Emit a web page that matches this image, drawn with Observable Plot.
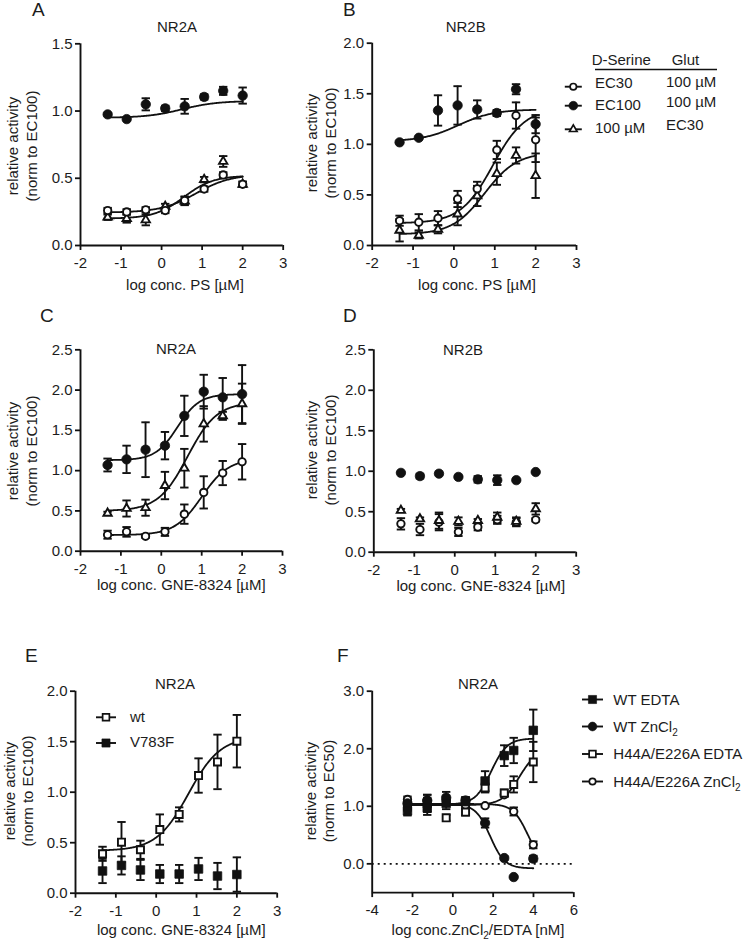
<!DOCTYPE html>
<html>
<head>
<meta charset="utf-8">
<script src="https://cdn.jsdelivr.net/npm/d3@7"></script>
<script src="https://cdn.jsdelivr.net/npm/@observablehq/plot@0.6"></script>
<style>
  html, body { margin: 0; padding: 0; background: #fff; }
  #fig { position: relative; width: 748px; height: 943px; overflow: hidden; background: #fff; }
</style>
</head>
<body>
<div id="fig"></div>
<script>
// ---------- shared x values / ticks ----------
const logDose = [-1.33, -0.86, -0.39, 0.09, 0.57, 1.05, 1.52, 2.0];
const logZn = [-2.25, -1.27, -0.33, 0.63, 1.6, 2.55, 3.02, 3.99];
const ticksDose = [-2, -1, 0, 1, 2, 3];
const ticksZn = [-4, -2, 0, 2, 4, 6];

// ---------- Panel A (NR2A, PS) ----------
const aEC30 = [0.26, 0.25, 0.265, 0.26, 0.335, 0.42, 0.525, 0.455];
const aEC30Err = [0.02, 0.02, 0.02, 0.02, 0.03, 0.02, 0.02, 0.02];
const aEC100 = [0.975, 0.94, 1.05, 1.02, 1.035, 1.105, 1.15, 1.115];
const aEC100Err = [0.01, 0.01, 0.045, 0.02, 0.055, 0.02, 0.03, 0.06];
const a100uM = [0.21, 0.20, 0.19, 0.29, 0.33, 0.49, 0.625, 0.455];
const a100uMErr = [0.02, 0.03, 0.04, 0.02, 0.03, 0.02, 0.04, 0.02];
// fit parameters: [low-dose level, high-dose level, logEC50, hill]
const aFitEC30 = [0.245, 0.53, 0.85, 1.0];
const aFitEC100 = [0.95, 1.075, 0.5, 1.0];
const aFit100uM = [0.2, 0.52, 0.55, 1.2];

// ---------- Panel B (NR2B, PS) ----------
const bEC30 = [0.245, 0.23, 0.27, 0.46, 0.56, 0.945, 1.285, 1.045];
const bEC30Err = [0.05, 0.08, 0.07, 0.08, 0.07, 0.09, 0.13, 0.22];
const bEC100 = [1.02, 1.065, 1.335, 1.385, 1.345, 1.31, 1.545, 1.2];
const bEC100Err = [0.01, 0.01, 0.15, 0.19, 0.09, 0.03, 0.05, 0.09];
const b100uM = [0.15, 0.10, 0.16, 0.31, 0.49, 0.71, 0.89, 0.69];
const b100uMErr = [0.11, 0.03, 0.04, 0.11, 0.10, 0.11, 0.08, 0.22];
const bFitEC30 = [0.22, 1.36, 0.95, 1.1];
const bFitEC100 = [1.03, 1.345, 0.1, 1.0];
const bFit100uM = [0.11, 0.92, 0.75, 1.1];

// ---------- Panel C (NR2A, GNE-8324) ----------
const cEC30 = [0.205, 0.24, 0.185, 0.24, 0.46, 0.73, 0.97, 1.11];
const cEC30Err = [0.05, 0.06, 0.02, 0.05, 0.12, 0.2, 0.15, 0.22];
const cEC100 = [1.07, 1.14, 1.26, 1.31, 1.68, 1.98, 1.91, 1.95];
const cEC100Err = [0.08, 0.17, 0.34, 0.17, 0.25, 0.21, 0.24, 0.36];
const c100uM = [0.47, 0.53, 0.54, 0.815, 1.03, 1.58, 1.68, 1.83];
const c100uMErr = [0.02, 0.1, 0.1, 0.17, 0.24, 0.22, 0.05, 0.25];
const cFitEC30 = [0.2, 1.15, 1.0, 1.3];
const cFitEC100 = [1.13, 1.95, 0.4, 1.6];
const cFit100uM = [0.5, 1.85, 0.65, 1.2];

// ---------- Panel D (NR2B, GNE-8324) ----------
const dEC30 = [0.35, 0.28, 0.37, 0.25, 0.31, 0.40, 0.37, 0.40];
const dEC30Err = [0.07, 0.07, 0.1, 0.05, 0.04, 0.05, 0.05, 0.02];
const dEC100 = [0.98, 0.94, 0.97, 0.93, 0.90, 0.89, 0.89, 0.99];
const dEC100Err = [0.01, 0.03, 0.01, 0.01, 0.04, 0.06, 0.01, 0.01];
const d100uM = [0.515, 0.41, 0.39, 0.38, 0.39, 0.43, 0.38, 0.535];
const d100uMErr = [0.02, 0.02, 0.1, 0.05, 0.02, 0.06, 0.05, 0.07];

// ---------- Panel E (NR2A, wt vs V783F) ----------
const eWt = [0.39, 0.505, 0.43, 0.63, 0.78, 1.165, 1.30, 1.505];
const eWtErr = [0.07, 0.2, 0.09, 0.15, 0.07, 0.17, 0.27, 0.26];
const eV783F = [0.22, 0.275, 0.23, 0.19, 0.19, 0.24, 0.17, 0.185];
const eV783FErr = [0.12, 0.09, 0.1, 0.09, 0.09, 0.11, 0.13, 0.17];
const eFitWt = [0.42, 1.55, 0.8, 1.1];

// ---------- Panel F (NR2A, ZnCl2 / EDTA) ----------
const fWtEDTA = [0.92, 0.97, 1.05, 1.08, 1.44, 1.88, 1.97, 2.32];
const fWtEDTAErr = [0.08, 0.12, 0.1, 0.08, 0.17, 0.18, 0.22, 0.36];
const fWtZn = [1.05, 1.1, 1.15, 1.1, 0.71, 0.10, -0.23, 0.09];
const fWtZnErr = [0.05, 0.1, 0.1, 0.06, 0.08, 0.03, 0.01, 0.05];
const fMutEDTA = [1.0, 1.05, 0.8, 0.9, 1.32, 1.23, 1.38, 1.77];
const fMutEDTAErr = [0.08, 0.15, 0.05, 0.06, 0.08, 0.06, 0.14, 0.35];
const fMutZn = [1.12, 1.1, 1.1, 1.02, 1.01, 1.2, 0.91, 0.33];
const fMutZnErr = [0.05, 0.05, 0.05, 0.05, 0.02, 0.03, 0.07, 0.06];
const fFitWtEDTA = [1.03, 2.18, 1.9, 1.1];
const fFitWtZn = [1.04, -0.08, 1.85, 1.2];
const fFitMutEDTA = [1.02, 2.0, 3.3, 1.0];
const fFitMutZn = [1.04, 0.0, 3.7, 1.2];

// ---------- helpers ----------
const INK = "#111";
const TXT = "#1c1c1c";
const FONT = '"Liberation Sans", Arial, Helvetica, sans-serif';
const fig = document.getElementById("fig");

const MARK = {
  oc: {symbol: "circle", r: 3.7, fill: "white", stroke: INK, strokeWidth: 1.9},
  fc: {symbol: "circle", r: 4.7, fill: INK, stroke: INK, strokeWidth: 0.8},
  ot: {symbol: "triangle", r: 3.1, fill: "white", stroke: INK, strokeWidth: 1.9},
  os: {symbol: "square", r: 4.0, fill: "white", stroke: INK, strokeWidth: 1.9},
  fs: {symbol: "square", r: 4.8, fill: INK, stroke: INK, strokeWidth: 0.8}
};
const capSymbol = {
  draw(context, size) {
    const w = Math.sqrt(size / Math.PI);
    context.moveTo(-w, 0);
    context.lineTo(w, 0);
  }
};

function rows(name, xs, ys, es) {
  return xs.map((x, i) => ({series: name, x, y: ys[i], lo: ys[i] - es[i], hi: ys[i] + es[i]}));
}
function fitCurve(name, params, x0, x1) {
  const [start, end, ec, h] = params;
  const n = 160;
  return d3.range(n + 1).map(i => {
    const x = x0 + (x1 - x0) * i / n;
    return {series: name, x, y: start + (end - start) / (1 + Math.pow(10, (ec - x) * h))};
  });
}

function drawPanel(p) {
  const mL = 70, mT = 30, mR = 20, mB = 30;
  const svgLeft = Math.floor(p.px[0]) - mL;
  const svgTop = Math.floor(p.py[0]) - mT;
  const width = Math.ceil(p.px[1]) + mR - svgLeft;
  const height = Math.ceil(p.py[1]) + mB - svgTop;
  const marks = [];
  (p.extra || []).forEach(m => marks.push(m));
  (p.fits || []).forEach(f => marks.push(Plot.line(f, {x: "x", y: "y", stroke: INK, strokeWidth: 1.8})));
  p.series.forEach(s => {
    marks.push(Plot.ruleX(s.data, {x: "x", y1: "lo", y2: "hi", stroke: INK, strokeWidth: 1.9}));
    marks.push(Plot.dot(s.data, {x: "x", y: "hi", symbol: capSymbol, r: 4.2, stroke: INK, strokeWidth: 1.9}));
    marks.push(Plot.dot(s.data, {x: "x", y: "lo", symbol: capSymbol, r: 4.2, stroke: INK, strokeWidth: 1.9}));
  });
  p.series.forEach(s => {
    marks.push(Plot.dot(s.data, {x: "x", y: "y", ...MARK[s.mark]}));
  });
  const chart = Plot.plot({
    width, height,
    marginLeft: p.px[0] - svgLeft,
    marginRight: svgLeft + width - p.px[1],
    marginTop: p.py[0] - svgTop,
    marginBottom: svgTop + height - p.py[1],
    style: {background: "transparent", overflow: "visible", fontFamily: FONT, fontSize: "15px", color: TXT},
    x: {type: "linear", domain: p.xDomain},
    y: {type: "linear", domain: p.yDomain},
    marks: [
      Plot.axisX({ticks: p.xTicks, tickSize: 5, tickPadding: 7, tickFormat: d => String(d), label: null, stroke: INK, strokeWidth: 1.8, fill: TXT}),
      Plot.axisY({ticks: p.yTicks, tickSize: 5, tickPadding: 3, tickFormat: d3.format(".1f"), label: null, stroke: INK, strokeWidth: 1.8, fill: TXT}),
      Plot.ruleY([p.yDomain[0]], {stroke: INK, strokeWidth: 1.9}),
      Plot.ruleX([p.xDomain[0]], {stroke: INK, strokeWidth: 1.9}),
      ...marks
    ]
  });
  chart.style.position = "absolute";
  chart.style.left = svgLeft + "px";
  chart.style.top = svgTop + "px";
  fig.appendChild(chart);
}

// ---------- panels ----------
drawPanel({
  px: [80, 282.7], py: [43.3, 245], xDomain: [-2, 3], yDomain: [0, 1.5],
  xTicks: ticksDose, yTicks: [0, 0.5, 1, 1.5],
  fits: [fitCurve("EC30", aFitEC30, -1.33, 2.0), fitCurve("EC100", aFitEC100, -1.33, 2.0), fitCurve("100uM", aFit100uM, -1.33, 2.0)],
  series: [
    {mark: "fc", data: rows("EC100", logDose, aEC100, aEC100Err)},
    {mark: "ot", data: rows("100uM", logDose, a100uM, a100uMErr)},
    {mark: "oc", data: rows("EC30", logDose, aEC30, aEC30Err)}
  ]
});
drawPanel({
  px: [371.7, 576], py: [42.7, 245], xDomain: [-2, 3], yDomain: [0, 2],
  xTicks: ticksDose, yTicks: [0, 0.5, 1, 1.5, 2],
  fits: [fitCurve("EC30", bFitEC30, -1.33, 2.0), fitCurve("EC100", bFitEC100, -1.33, 2.0), fitCurve("100uM", bFit100uM, -1.33, 2.0)],
  series: [
    {mark: "fc", data: rows("EC100", logDose, bEC100, bEC100Err)},
    {mark: "ot", data: rows("100uM", logDose, b100uM, b100uMErr)},
    {mark: "oc", data: rows("EC30", logDose, bEC30, bEC30Err)}
  ]
});
drawPanel({
  px: [80, 282], py: [349.3, 550.7], xDomain: [-2, 3], yDomain: [0, 2.5],
  xTicks: ticksDose, yTicks: [0, 0.5, 1, 1.5, 2, 2.5],
  fits: [fitCurve("EC30", cFitEC30, -1.33, 2.0), fitCurve("EC100", cFitEC100, -1.33, 2.0), fitCurve("100uM", cFit100uM, -1.33, 2.0)],
  series: [
    {mark: "fc", data: rows("EC100", logDose, cEC100, cEC100Err)},
    {mark: "ot", data: rows("100uM", logDose, c100uM, c100uMErr)},
    {mark: "oc", data: rows("EC30", logDose, cEC30, cEC30Err)}
  ]
});
drawPanel({
  px: [373.3, 575.7], py: [349.3, 551.7], xDomain: [-2, 3], yDomain: [0, 2.5],
  xTicks: ticksDose, yTicks: [0, 0.5, 1, 1.5, 2, 2.5],
  series: [
    {mark: "fc", data: rows("EC100", logDose, dEC100, dEC100Err)},
    {mark: "oc", data: rows("EC30", logDose, dEC30, dEC30Err)},
    {mark: "ot", data: rows("100uM", logDose, d100uM, d100uMErr)}
  ]
});
drawPanel({
  px: [75, 276.7], py: [690.7, 892.7], xDomain: [-2, 3], yDomain: [0, 2],
  xTicks: ticksDose, yTicks: [0, 0.5, 1, 1.5, 2],
  fits: [fitCurve("wt", eFitWt, -1.33, 2.0)],
  series: [
    {mark: "fs", data: rows("V783F", logDose, eV783F, eV783FErr)},
    {mark: "os", data: rows("wt", logDose, eWt, eWtErr)}
  ]
});
drawPanel({
  px: [371.7, 573.3], py: [690.7, 892.1], xDomain: [-4, 6], yDomain: [-0.5, 3],
  xTicks: ticksZn, yTicks: [0, 1, 2, 3],
  extra: [Plot.ruleY([0], {stroke: INK, strokeWidth: 1.9, strokeDasharray: "2,4"})],
  fits: [
    fitCurve("WT EDTA", fFitWtEDTA, -2.25, 3.99), fitCurve("WT ZnCl2", fFitWtZn, -2.25, 3.99),
    fitCurve("H44A EDTA", fFitMutEDTA, -2.25, 3.99), fitCurve("H44A ZnCl2", fFitMutZn, -2.25, 3.99)
  ],
  series: [
    {mark: "oc", data: rows("H44A ZnCl2", logZn, fMutZn, fMutZnErr)},
    {mark: "os", data: rows("H44A EDTA", logZn, fMutEDTA, fMutEDTAErr)},
    {mark: "fc", data: rows("WT ZnCl2", logZn, fWtZn, fWtZnErr)},
    {mark: "fs", data: rows("WT EDTA", logZn, fWtEDTA, fWtEDTAErr)}
  ]
});

// ---------- text overlay (letters, titles, axis labels, legends) ----------
const ov = d3.select(fig).append("svg")
  .attr("width", 748).attr("height", 943)
  .style("position", "absolute").style("left", "0px").style("top", "0px")
  .style("pointer-events", "none")
  .style("font-family", FONT).style("fill", TXT);

function txt(x, y, s, anchor = "start", size = 15) {
  return ov.append("text").attr("x", x).attr("y", y).attr("text-anchor", anchor)
    .attr("font-size", size).text(s);
}
function ylab(cx1, cx2, cy, l1, l2) {
  [[cx1, l1], [cx2, l2]].forEach(([cx, s]) => {
    ov.append("text").attr("transform", `translate(${cx},${cy}) rotate(-90)`)
      .attr("text-anchor", "middle").attr("dominant-baseline", "central")
      .attr("font-size", 15).text(s);
  });
}
function subText(x, y, parts, anchor = "start") {
  const t = ov.append("text").attr("x", x).attr("y", y).attr("text-anchor", anchor).attr("font-size", 15);
  let lastSub = false;
  parts.forEach(([s, sub]) => {
    if (sub) { t.append("tspan").attr("dy", 4).attr("font-size", 10).text(s); lastSub = true; }
    else { t.append("tspan").attr("dy", lastSub ? -4 : 0).text(s); lastSub = false; }
  });
  return t;
}

// panel letters
[["A", 32, 16], ["B", 343, 16], ["C", 40, 322], ["D", 343, 322], ["E", 25, 662], ["F", 337, 662]]
  .forEach(([s, x, y]) => txt(x, y, s, "start", 19));

// titles
[["NR2A", 177, 32], ["NR2B", 465.7, 32], ["NR2A", 176, 354], ["NR2B", 463, 355], ["NR2A", 175, 689], ["NR2A", 478, 689]]
  .forEach(([s, x, y]) => txt(x, y, s, "middle"));

// x labels
txt(185, 290, "log conc. PS [µM]", "middle");
txt(477, 290, "log conc. PS [µM]", "middle");
txt(181.3, 590, "log conc. GNE-8324 [µM]", "middle");
txt(480.8, 591, "log conc. GNE-8324 [µM]", "middle");
txt(181.3, 935, "log conc. GNE-8324 [µM]", "middle");
subText(478, 935, [["log conc.ZnCl"], ["2", true], ["/EDTA [nM]"]], "middle");

// y labels
ylab(12.5, 31, 146, "relative activity", "(norm to EC100)");
ylab(311.7, 330, 143, "relative activity", "(norm to EC100)");
ylab(12.5, 31, 451, "relative activity", "(norm to EC100)");
ylab(311.7, 330, 450, "relative activity", "(norm to EC100)");
ylab(9.5, 27.5, 791, "relative activity", "(norm to EC100)");
ylab(310, 328.5, 791, "relative activity", "(norm to EC50)");

// legend symbols
const LSYM = {
  oc: {type: d3.symbolCircle, r: 3.2, fill: "white", sw: 1.7},
  fc: {type: d3.symbolCircle, r: 4.4, fill: INK, sw: 0.6},
  ot: {type: d3.symbolTriangle, r: 2.8, fill: "white", sw: 1.7},
  os: {type: d3.symbolSquare, r: 3.8, fill: "white", sw: 1.7},
  fs: {type: d3.symbolSquare, r: 4.6, fill: INK, sw: 0.6}
};
function legSym(kind, cx, cy, half = 8.5) {
  ov.append("line").attr("x1", cx - half).attr("x2", cx + half).attr("y1", cy).attr("y2", cy)
    .attr("stroke", INK).attr("stroke-width", 1.9);
  const s = LSYM[kind];
  ov.append("path").attr("transform", `translate(${cx},${cy})`)
    .attr("d", d3.symbol(s.type, Math.PI * s.r * s.r)())
    .attr("fill", s.fill).attr("stroke", INK).attr("stroke-width", s.sw);
}

// legend B
txt(591.7, 65, "D-Serine");
txt(671.7, 65, "Glut");
ov.append("line").attr("x1", 595).attr("x2", 717).attr("y1", 69.5).attr("y2", 69.5)
  .attr("stroke", INK).attr("stroke-width", 1.3);
const legBRows = [["oc", "EC30", "100 µM", 86.7, 88.3, 87.3], ["fc", "EC100", "100 µM", 105.7, 110, 106.7], ["ot", "100 µM", "EC30", 129.3, 132.7, 130]];
legBRows.forEach(([k, a, b, sy, ty, gy]) => {
  legSym(k, 573.3, sy);
  txt(595, ty, a);
  txt(666, gy, b);
});

// legend E
legSym("os", 106, 717.3, 10);
txt(130, 721.7, "wt");
legSym("fs", 106, 743, 10);
txt(130, 746.7, "V783F");

// legend F
legSym("fs", 592.5, 699.5, 10.5);
txt(613.3, 705, "WT EDTA");
legSym("fc", 592.5, 726.5, 10.5);
subText(613.3, 731.7, [["WT ZnCl"], ["2", true]]);
legSym("os", 592.5, 754, 10.5);
txt(613.3, 759.3, "H44A/E226A EDTA");
legSym("oc", 592.5, 781.5, 10.5);
subText(613.3, 786.7, [["H44A/E226A ZnCl"], ["2", true]]);
</script>
</body>
</html>
